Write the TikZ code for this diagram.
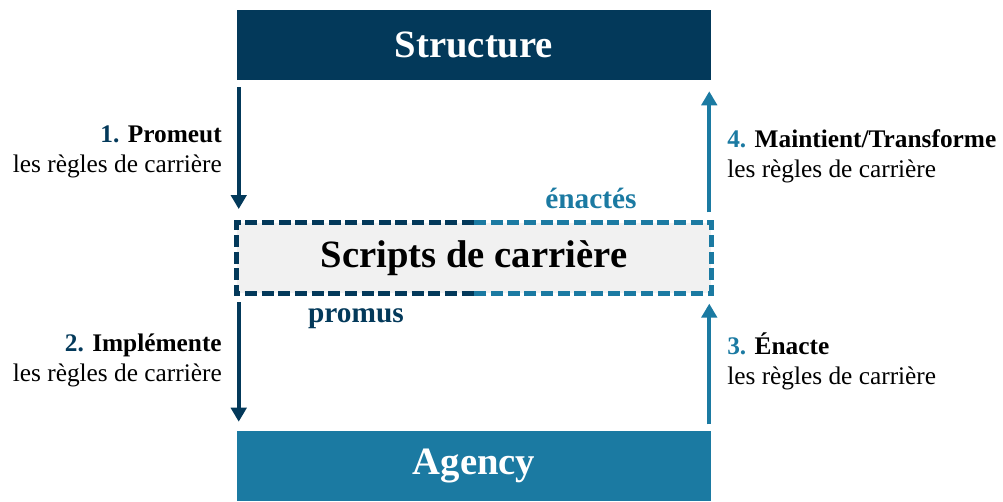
\documentclass[tikz,border=0pt]{standalone}
\usepackage{fontspec}
\setmainfont{Liberation Serif}
\usetikzlibrary{arrows.meta}
\definecolor{structblue}{HTML}{03395A}
\definecolor{agencyblue}{HTML}{1B7AA2}
\definecolor{scriptgray}{HTML}{F1F1F1}
\tikzset{
  bigbox/.style={font=\fontsize{29}{34}\selectfont\bfseries, minimum width=355.5pt, minimum height=53pt, inner sep=0},
  lbl/.style={font=\fontsize{19}{22.5}\selectfont, inner sep=0},
  midlbl/.style={font=\fontsize{22}{26}\selectfont\bfseries, inner sep=0},
  dashbox/.style={line width=3.4pt, dash pattern=on 9pt off 3.5pt},
  arr/.style={line width=3.1pt, -{Triangle[width=11.5pt,length=10.5pt]}}
}
\begin{document}
\begin{tikzpicture}[x=0.75pt,y=-0.75pt]
\useasboundingbox (0,0) rectangle (1003,501);
\node[bigbox, text=white, fill=structblue] (structure) at (474,45) {Structure};
\node[bigbox, fill=scriptgray] (scripts) at (474,258) {Scripts de carrière};
\node[bigbox, text=white, fill=agencyblue] (agency) at (474,466) {Agency};

\draw[dashbox, structblue] (scripts.north) -- (scripts.north west) -- (scripts.south west) -- (scripts.south);
\draw[dashbox, agencyblue] (scripts.north) -- (scripts.north east) -- (scripts.south east) -- (scripts.south);

\draw[arr, structblue, shorten <=5pt, shorten >=10pt] ([xshift=1.5pt]structure.south west) -- ([xshift=1.5pt]scripts.north west);
\draw[arr, structblue, shorten <=6.5pt, shorten >=6.5pt] ([xshift=1.5pt]scripts.south west) -- ([xshift=1.5pt]agency.north west);
\draw[arr, agencyblue, shorten <=4.5pt, shorten >=7.5pt] ([xshift=-1.5pt]agency.north east) -- ([xshift=-1.5pt]scripts.south east);
\draw[arr, agencyblue, shorten <=7.5pt, shorten >=8pt] ([xshift=-1.5pt]scripts.north east) -- ([xshift=-1.5pt]structure.south east);

\node[lbl, anchor=east, align=right] (promeut) at (222,152) {\textbf{\textcolor{structblue}{1.} Promeut}\\les règles de carrière};
\node[lbl, anchor=east, align=right] (implemente) at (222,360) {\textbf{\textcolor{structblue}{2.} Implémente}\\les règles de carrière};
\node[lbl, anchor=west, align=left] (enacte) at (727,361) {\textbf{\textcolor{agencyblue}{3.} Énacte}\\les règles de carrière};
\node[lbl, anchor=west, align=left] (maintient) at (727,156) {\textbf{\textcolor{agencyblue}{4.} Maintient/Transforme}\\les règles de carrière};
\node[midlbl, text=agencyblue] (enactes) at (591,198) {énactés};
\node[midlbl, text=structblue] (promus) at (356,319) {promus};
\end{tikzpicture}
\end{document}
